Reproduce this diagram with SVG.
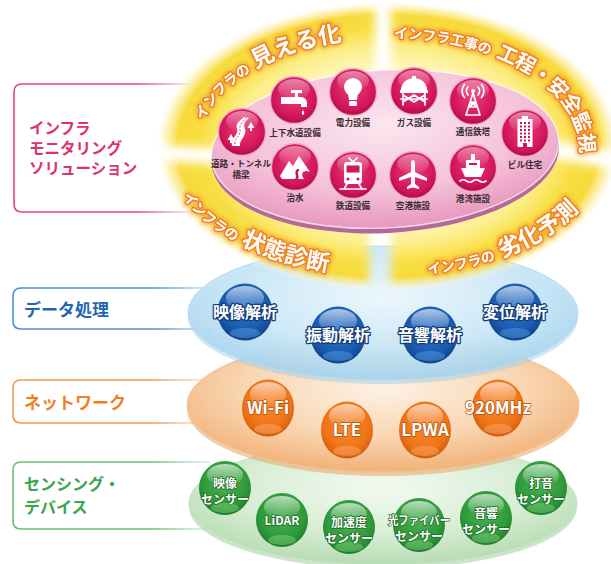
<svg xmlns="http://www.w3.org/2000/svg" width="611" height="564" viewBox="0 0 611 564">
<defs>
<style>
.jp{font-family:"Noto Sans CJK JP","Noto Sans CJK SC",sans-serif;font-weight:700}
.side{font-size:17px}
.lbl{font-size:8.6px;fill:#3a2a32;text-anchor:middle}
.arc{fill:#fff;stroke:#ec7f22;stroke-width:2.6px;paint-order:stroke;stroke-linejoin:round}
.bt{font-size:16px;fill:#fff;stroke:#163d78;stroke-width:2.6px;paint-order:stroke;stroke-linejoin:round;text-anchor:middle}
.ot{font-size:17px;fill:#fff;stroke:#b5500c;stroke-width:1.4px;paint-order:stroke;stroke-linejoin:round;text-anchor:middle}
.gt{font-size:12px;fill:#fff;stroke:#1b6526;stroke-width:1.5px;paint-order:stroke;stroke-linejoin:round;text-anchor:middle}
.ico{fill:#fff}
.icl{fill:none;stroke:#fff;stroke-width:1.7;stroke-linecap:round;stroke-linejoin:round}
.box{fill:none;stroke-width:1.6}
</style>

<!-- glossy ball fills -->
<radialGradient id="gPink" cx="0.5" cy="0.42" r="0.6">
  <stop offset="0" stop-color="#ec3a76"/>
  <stop offset="0.75" stop-color="#d1155a"/>
  <stop offset="1" stop-color="#a30c45"/>
</radialGradient>
<radialGradient id="gBlue" cx="0.5" cy="0.4" r="0.62">
  <stop offset="0" stop-color="#2f76cc"/>
  <stop offset="0.7" stop-color="#1a5bb0"/>
  <stop offset="1" stop-color="#0e3f86"/>
</radialGradient>
<radialGradient id="gOrange" cx="0.5" cy="0.4" r="0.62">
  <stop offset="0" stop-color="#f98a30"/>
  <stop offset="0.7" stop-color="#ef7418"/>
  <stop offset="1" stop-color="#cf5a0a"/>
</radialGradient>
<radialGradient id="gGreen" cx="0.5" cy="0.4" r="0.62">
  <stop offset="0" stop-color="#49b350"/>
  <stop offset="0.7" stop-color="#2f9a3a"/>
  <stop offset="1" stop-color="#1c7a29"/>
</radialGradient>
<linearGradient id="gloss" x1="0" y1="0" x2="0" y2="1">
  <stop offset="0" stop-color="#fff" stop-opacity="0.65"/>
  <stop offset="1" stop-color="#fff" stop-opacity="0"/>
</linearGradient>

<!-- layer discs -->
<radialGradient id="lBlue" cx="0.5" cy="0.38" r="0.6">
  <stop offset="0" stop-color="#eef8fd" stop-opacity="0.95"/>
  <stop offset="0.6" stop-color="#cde9f7" stop-opacity="0.9"/>
  <stop offset="1" stop-color="#a6d3ee" stop-opacity="0.85"/>
</radialGradient>
<radialGradient id="lOrange" cx="0.5" cy="0.38" r="0.6">
  <stop offset="0" stop-color="#fdf1e4"/>
  <stop offset="0.6" stop-color="#f9d6b2"/>
  <stop offset="1" stop-color="#f2b47c"/>
</radialGradient>
<radialGradient id="lGreen" cx="0.5" cy="0.38" r="0.6">
  <stop offset="0" stop-color="#f3faf1"/>
  <stop offset="0.6" stop-color="#d9eed6"/>
  <stop offset="1" stop-color="#b9ddb5"/>
</radialGradient>
<radialGradient id="lPink" cx="0.5" cy="0.35" r="0.62">
  <stop offset="0" stop-color="#fbe6ef"/>
  <stop offset="0.65" stop-color="#f5c3da"/>
  <stop offset="1" stop-color="#e99cc1"/>
</radialGradient>
<radialGradient id="glowFill" cx="0.5" cy="0.5" r="0.5">
  <stop offset="0" stop-color="#fffef4"/>
  <stop offset="0.5" stop-color="#fff8cc"/>
  <stop offset="0.68" stop-color="#fcee88"/>
  <stop offset="0.8" stop-color="#f8df44"/>
  <stop offset="0.9" stop-color="#f7da3a"/>
  <stop offset="0.95" stop-color="#fbea8c" stop-opacity="0.6"/>
  <stop offset="1" stop-color="#ffffff" stop-opacity="0"/>
</radialGradient>

<!-- fading bracket strokes -->
<linearGradient id="lnPink" gradientUnits="userSpaceOnUse" x1="14" y1="0" x2="190" y2="0">
  <stop offset="0.7" stop-color="#e8457e"/>
  <stop offset="1" stop-color="#e8457e" stop-opacity="0.2"/>
</linearGradient>
<linearGradient id="lnBlue" gradientUnits="userSpaceOnUse" x1="13" y1="0" x2="212" y2="0">
  <stop offset="0.7" stop-color="#4a90cf"/>
  <stop offset="1" stop-color="#4a90cf" stop-opacity="0.2"/>
</linearGradient>
<linearGradient id="lnOrange" gradientUnits="userSpaceOnUse" x1="13" y1="0" x2="210" y2="0">
  <stop offset="0.7" stop-color="#f29a50"/>
  <stop offset="1" stop-color="#f29a50" stop-opacity="0.2"/>
</linearGradient>
<linearGradient id="lnGreen" gradientUnits="userSpaceOnUse" x1="13" y1="0" x2="210" y2="0">
  <stop offset="0.7" stop-color="#6bbd7a"/>
  <stop offset="1" stop-color="#6bbd7a" stop-opacity="0.2"/>
</linearGradient>

<filter id="soft" x="-20%" y="-20%" width="140%" height="140%">
  <feGaussianBlur stdDeviation="5"/>
</filter>
<filter id="glow" x="-10%" y="-30%" width="120%" height="160%">
  <feMorphology in="SourceAlpha" operator="dilate" radius="1.2" result="d"/>
  <feGaussianBlur in="d" stdDeviation="2" result="b"/>
  <feFlood flood-color="#f29a2e" flood-opacity="0.9"/>
  <feComposite in2="b" operator="in" result="g"/>
  <feMerge><feMergeNode in="g"/><feMergeNode in="SourceGraphic"/></feMerge>
</filter>

<!-- cross-shaped gaps between the four glow petals -->
<mask id="petals" maskUnits="userSpaceOnUse" x="0" y="-40" width="611" height="380">
  <rect x="0" y="-40" width="611" height="380" fill="#fff"/>
  <g filter="url(#soft)" stroke="#000" stroke-linecap="round">
    <path d="M383 -30 L383 76" stroke-width="16"/>
    <path d="M380 224 L380 330" stroke-width="22"/>
    <path d="M110 150 L214 156" stroke-width="16"/>
    <path d="M556 150 L650 166" stroke-width="18"/>
  </g>
</mask>

<!-- arcs carrying the petal captions -->
<path id="arc1" d="M199.9 169.4 A188 112 0 0 1 385 38"/>
<path id="arc2" d="M388 38 A192 112 0 0 1 573.5 179"/>
<path id="arc3" d="M167 150 A218 126 0 0 0 385 276"/>
<path id="arc4" d="M390 276 A215 126 0 0 0 605 150"/>

<!-- reusable balls -->
<g id="pball">
  <circle r="23.5" fill="url(#gPink)" stroke="#f3a9c7" stroke-width="1.3"/>
  <ellipse cy="-11" rx="16" ry="10" fill="url(#gloss)" opacity="0.7"/>
</g>
<g id="bball">
  <ellipse rx="27.5" ry="28.5" fill="url(#gBlue)"/>
  <ellipse cy="-14" rx="19" ry="12" fill="url(#gloss)"/>
  <ellipse cy="21" rx="15" ry="5" fill="#5e9fe6" opacity="0.45"/>
</g>
<g id="oball">
  <ellipse rx="26" ry="28.5" fill="url(#gOrange)"/>
  <ellipse cy="-14" rx="18" ry="12" fill="url(#gloss)"/>
  <ellipse cy="21" rx="14" ry="5" fill="#ffb070" opacity="0.45"/>
</g>
<g id="gball">
  <ellipse rx="26" ry="27" fill="url(#gGreen)"/>
  <ellipse cy="-13" rx="18" ry="11" fill="url(#gloss)"/>
  <ellipse cy="20" rx="14" ry="5" fill="#84d47f" opacity="0.45"/>
</g>
</defs>

<rect width="611" height="564" fill="#fff"/>

<!-- brackets on the left, their arms run in under the discs -->
<g id="connectors">
  <path class="box" stroke="url(#lnPink)" d="M190 84 H22 Q14 84 14 92 V204 Q14 212 22 212 H190"/>
  <path class="box" stroke="url(#lnBlue)" d="M212 288 H21 Q13 288 13 296 V321 Q13 329 21 329 H212"/>
  <path class="box" stroke="url(#lnOrange)" d="M210 380 H21 Q13 380 13 388 V415 Q13 423 21 423 H210"/>
  <path class="box" stroke="url(#lnGreen)" d="M210 462 H21 Q13 462 13 470 V521 Q13 529 21 529 H210"/>
</g>

<!-- stacked layer discs -->
<g id="layer-sensing">
  <ellipse cx="383" cy="507" rx="194" ry="62" fill="#a9d3a6" opacity="0.6"/>
  <ellipse cx="383" cy="503" rx="194" ry="62" fill="url(#lGreen)" stroke="#c4e4c0" stroke-width="1"/>
</g>
<g id="layer-network">
  <ellipse cx="383" cy="409" rx="196" ry="67" fill="#e6a56c" opacity="0.55"/>
  <ellipse cx="383" cy="405" rx="196" ry="67" fill="url(#lOrange)" stroke="#f4c193" stroke-width="1"/>
</g>
<g id="layer-data">
  <ellipse cx="383" cy="317" rx="195" ry="67" fill="#9fcde8" opacity="0.5"/>
  <ellipse cx="383" cy="313" rx="195" ry="67" fill="url(#lBlue)" stroke="#b3dbf0" stroke-width="1"/>
</g>

<!-- glowing petals around the solution disc -->
<g id="glow-petals">
  <ellipse cx="388" cy="146" rx="234" ry="146" fill="url(#glowFill)" mask="url(#petals)"/>
</g>

<!-- solution disc -->
<g id="solution-disc" transform="rotate(-3 385 149)">
  <ellipse cx="385" cy="154" rx="174" ry="79" fill="#b5699a"/>
  <ellipse cx="385" cy="149" rx="174" ry="79" fill="url(#lPink)" stroke="#fff" stroke-opacity="0.7" stroke-width="1.4"/>
</g>

<!-- petal captions -->
<g id="captions" class="jp" filter="url(#glow)">
  <text class="arc"><textPath href="#arc1" startOffset="50"><tspan font-size="14">インフラの</tspan><tspan font-size="23" dx="5">見える化</tspan></textPath></text>
  <text class="arc"><textPath href="#arc2" startOffset="6"><tspan font-size="14">インフラ工事の</tspan><tspan font-size="20" dx="6" letter-spacing="-0.5">工程・安全監視</tspan></textPath></text>
  <text class="arc"><textPath href="#arc3" startOffset="50"><tspan font-size="14">インフラの</tspan><tspan font-size="23" dx="6">状態診断</tspan></textPath></text>
  <text class="arc"><textPath href="#arc4" startOffset="38"><tspan font-size="14">インフラの</tspan><tspan font-size="23" dx="6">劣化予測</tspan></textPath></text>
</g>

<!-- infrastructure icons -->
<g id="n-road" class="jp" transform="translate(242 132)">
  <use href="#pball"/>
  <path class="ico" d="M-10 14 C-12 6 -3 3 -5 -3 C-7 -9 -1 -12 2 -15 L7 -14 C3 -11 1 -8 3 -3 C5 4 -3 8 -2 14 Z"/>
  <path d="M-7 12 C-8 6 -1 4 -2 -2 C-3 -8 1 -10 4 -14" fill="none" stroke="#d1155a" stroke-width="0.8" stroke-dasharray="2 1.5"/>
  <path class="ico" d="M9 -10 l-3.5 6 h2.5 v3 h2 v-3 h2.5 z M-11 2 l-3.5 6 h2.5 v3 h2 v-3 h2.5 z"/>
  <text class="lbl" x="-1" y="35">道路・トンネル<tspan x="-1" dy="11">橋梁</tspan></text>
</g>
<g id="n-water" class="jp" transform="translate(294 100)">
  <use href="#pball"/>
  <path class="ico" d="M-13 -3 h14 v-4 h-4 v-3 h11 v3 h-4 v4 h3 a6 6 0 0 1 6 6 v4 h-6 v-3 h-20 z"/>
  <path class="ico" d="M9 10 q-2.5 3.5 0 5 q2.5 -1.5 0 -5z"/>
  <text class="lbl" x="1" y="36">上下水道設備</text>
</g>
<g id="n-power" class="jp" transform="translate(353 92)">
  <use href="#pball"/>
  <circle class="ico" cy="-5" r="9"/>
  <path class="ico" d="M-5 2 h10 l-1 6 h-8 z"/>
  <rect class="ico" x="-4" y="9" width="8" height="5" rx="1.5"/>
  <text class="lbl" x="0" y="34">電力設備</text>
</g>
<g id="n-gas" class="jp" transform="translate(414 91)">
  <use href="#pball"/>
  <rect class="ico" x="-2" y="-15" width="4" height="3"/>
  <path class="ico" d="M-13 -1 a13 12 0 0 1 26 0 z"/>
  <rect class="ico" x="-14" y="-1" width="28" height="3"/>
  <path class="icl" d="M-11 2 V14 M11 2 V14 M-11 4 L0 11 L11 4 M-11 11 L0 4 L11 11 M-13 8 H13"/>
  <text class="lbl" x="0" y="35">ガス設備</text>
</g>
<g id="n-tower" class="jp" transform="translate(473 101)">
  <use href="#pball"/>
  <circle class="ico" cy="-10" r="2"/>
  <path class="icl" d="M0 -8 L-7 14 M0 -8 L7 14 M-4.5 6 H4.5 M-2.8 1 H2.8 M-4.5 6 L2.8 1 M4.5 6 L-2.8 1 M-7 14 H7"/>
  <path class="icl" stroke-width="1.3" d="M-5 -14 a6 6 0 0 0 0 8 M5 -14 a6 6 0 0 1 0 8 M-8.5 -16.5 a10 10 0 0 0 0 13 M8.5 -16.5 a10 10 0 0 1 0 13"/>
  <text class="lbl" x="0" y="34">通信鉄塔</text>
</g>
<g id="n-building" class="jp" transform="translate(525 133)">
  <use href="#pball"/>
  <rect class="ico" x="-7.5" y="-14" width="15" height="28"/>
  <rect class="ico" x="-3" y="-17" width="6" height="4"/>
  <path d="M-4 -11 V9 M0 -11 V9 M4 -11 V9" stroke="#d1155a" stroke-width="2" stroke-dasharray="2 1.5"/>
  <rect x="-2" y="10" width="4" height="4" fill="#d1155a"/>
  <text class="lbl" x="0" y="35">ビル住宅</text>
</g>
<g id="n-flood" class="jp" transform="translate(295 167)">
  <use href="#pball"/>
  <path class="ico" d="M-15 9 L-6 -6 L-2 -1 L4 -11 L15 5 C8 2 5 7 9 12 L-13 12 Z"/>
  <path d="M3 3 C-1 6 5 9 1 13" fill="none" stroke="#d1155a" stroke-width="2.5" stroke-linecap="round"/>
  <text class="lbl" x="0" y="34">治水</text>
</g>
<g id="n-rail" class="jp" transform="translate(353 175)">
  <use href="#pball"/>
  <path class="icl" stroke-width="1.3" d="M-4 -17 L0 -13 L4 -17"/>
  <rect class="ico" x="-9" y="-13" width="18" height="22" rx="3"/>
  <rect x="-6.5" y="-9.5" width="13" height="7" fill="#d1155a"/>
  <circle cx="-5" cy="4" r="1.5" fill="#d1155a"/>
  <circle cx="5" cy="4" r="1.5" fill="#d1155a"/>
  <path class="icl" d="M-13 14 H13 M-6 9 L-9 14 M6 9 L9 14"/>
  <text class="lbl" x="0" y="34">鉄道設備</text>
</g>
<g id="n-airport" class="jp" transform="translate(413 175)">
  <use href="#pball"/>
  <path class="ico" d="M0 -15 C2 -15 2 -12 2 -10 L2 -3 L14 3 L14 6 L2 2 L2 9 L6 12 L6 14 L0 12.5 L-6 14 L-6 12 L-2 9 L-2 2 L-14 6 L-14 3 L-2 -3 L-2 -10 C-2 -12 -2 -15 0 -15 Z"/>
  <text class="lbl" x="0" y="34">空港施設</text>
</g>
<g id="n-port" class="jp" transform="translate(473 168)">
  <use href="#pball"/>
  <rect class="ico" x="-2" y="-14" width="4" height="6"/>
  <rect class="ico" x="-7" y="-8" width="14" height="8"/>
  <path class="ico" d="M-12 0 H12 L8 9 H-8 Z"/>
  <rect x="-4" y="-5" width="8" height="2" fill="#d1155a"/>
  <path class="icl" stroke-width="1.3" d="M-13 13 q3 -2.5 6.5 0 t6.5 0 t6.5 0 t6.5 0"/>
  <text class="lbl" x="0" y="34">港湾施設</text>
</g>

<!-- data processing -->
<g id="n-video-analysis" class="jp"><use href="#bball" x="245" y="312"/><text class="bt" x="245" y="318">映像解析</text></g>
<g id="n-vibration" class="jp"><use href="#bball" x="338" y="335"/><text class="bt" x="338" y="341">振動解析</text></g>
<g id="n-acoustic" class="jp"><use href="#bball" x="430" y="335"/><text class="bt" x="430" y="341">音響解析</text></g>
<g id="n-displacement" class="jp"><use href="#bball" x="515" y="312"/><text class="bt" x="515" y="318">変位解析</text></g>

<!-- network -->
<g id="n-wifi" class="jp"><use href="#oball" x="268" y="408"/><text class="ot" x="268" y="414">Wi-Fi</text></g>
<g id="n-lte" class="jp"><use href="#oball" x="347" y="430"/><text class="ot" x="347" y="436">LTE</text></g>
<g id="n-lpwa" class="jp"><use href="#oball" x="425" y="430"/><text class="ot" x="425" y="436">LPWA</text></g>
<g id="n-920" class="jp"><use href="#oball" x="498" y="408"/><text class="ot" x="498" y="414">920MHz</text></g>

<!-- sensing devices -->
<g id="n-camera" class="jp"><use href="#gball" x="225" y="488"/><text class="gt" x="225" y="488">映像<tspan x="225" dy="15.5">センサー</tspan></text></g>
<g id="n-lidar" class="jp"><use href="#gball" x="282" y="520"/><text class="gt" x="282" y="525" font-size="14.5">LiDAR</text></g>
<g id="n-accel" class="jp"><use href="#gball" x="349" y="527"/><text class="gt" x="349" y="527">加速度<tspan x="349" dy="15.5">センサー</tspan></text></g>
<g id="n-fiber" class="jp"><use href="#gball" x="419" y="525"/><text class="gt" x="419" y="525"><tspan textLength="62" lengthAdjust="spacingAndGlyphs">光ファイバー</tspan><tspan x="419" dy="15.5">センサー</tspan></text></g>
<g id="n-sound" class="jp"><use href="#gball" x="486" y="518"/><text class="gt" x="486" y="518">音響<tspan x="486" dy="15.5">センサー</tspan></text></g>
<g id="n-hammer" class="jp"><use href="#gball" x="541" y="488"/><text class="gt" x="541" y="488">打音<tspan x="541" dy="15.5">センサー</tspan></text></g>

<!-- layer titles -->
<g id="t-solution" class="jp" fill="#e0306c" font-size="15.5">
  <text x="29" y="134">インフラ<tspan x="29" dy="20">モニタリング</tspan><tspan x="29" dy="20">ソリューション</tspan></text>
</g>
<g id="t-data" class="jp side" fill="#2166b5"><text x="24" y="316">データ処理</text></g>
<g id="t-network" class="jp side" fill="#f07f26"><text x="24" y="409">ネットワーク</text></g>
<g id="t-sensing" class="jp" fill="#3aa64a" font-size="16">
  <text x="24" y="490">センシング・<tspan x="24" dy="22.5">デバイス</tspan></text>
</g>
</svg>
